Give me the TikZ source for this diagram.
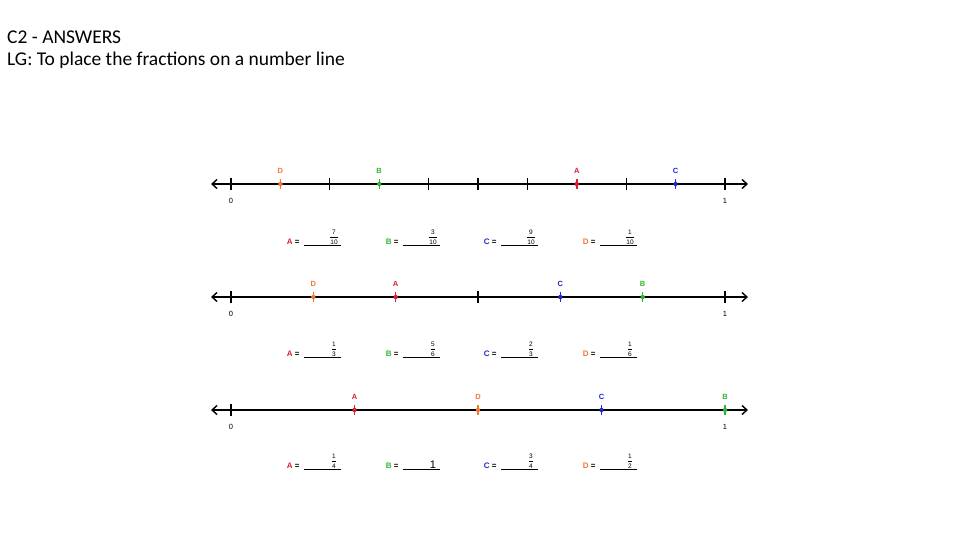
\documentclass[tikz,border=0pt]{standalone}
\usepackage{fontspec}
\setmainfont{Liberation Sans}
\newfontfamily\hdr{Carlito}
\usetikzlibrary{arrows.meta}
\definecolor{cA}{RGB}{220,30,50}
\definecolor{cB}{RGB}{50,180,50}
\definecolor{cC}{RGB}{30,40,200}
\definecolor{cD}{RGB}{240,120,50}
\newcommand{\fr}[2]{\ensuremath{\displaystyle\frac{\hbox{#1}}{\hbox{#2}}}}
\tikzset{
 axis/.style={line width=1.4pt,<->,>={Straight Barb[length=5pt,width=9pt]}},
 tk/.style={line width=1.2pt},
 ptk/.style={line width=1.4pt},
 plab/.style={font=\bfseries\fontsize{7.5}{8}\selectfont,anchor=south},
 endlab/.style={font=\fontsize{7.5}{8}\selectfont,anchor=north},
 alab/.style={font=\bfseries\fontsize{8}{9}\selectfont,anchor=east},
 blank/.style={line width=0.5pt},
 frac/.style={font=\fontsize{6.5}{7}\selectfont,anchor=south},
}
\begin{document}
\begin{tikzpicture}[x=1pt,y=-1pt]
\useasboundingbox (0,0) rectangle (960,540);
\node[anchor=north west,font=\hdr\fontsize{19.5}{22}\selectfont,align=left,inner sep=0] (title) at (7,31) {C2 - ANSWERS\\LG: To place the fractions on a number line};
% ---------- Line 1 ----------
\coordinate (l1a) at (211,184); \coordinate (l1b) at (748,184);
\draw[axis] (l1a) -- (l1b);
\foreach \f in {0,2,4,5,6,8,10} \draw[tk] (231+49.4*\f,178) -- (231+49.4*\f,190);
\foreach \f/\c/\l in {1/cD/D,3/cB/B,7/cA/A,9/cC/C}{
 \draw[ptk,\c] (231+49.4*\f,179) -- (231+49.4*\f,189);
 \fill[\c] (231+49.4*\f,184) circle (2.2);
 \node[plab,\c] at (231+49.4*\f,177) {\l};}
\node[endlab] (z1) at (231,195) {0};
\node[endlab] (o1) at (725,195) {1};
% ---------- Line 2 ----------
\coordinate (l2a) at (211,297); \coordinate (l2b) at (748,297);
\draw[axis] (l2a) -- (l2b);
\foreach \f in {0,3,6} \draw[tk] (231+82.33*\f,291) -- (231+82.33*\f,303);
\foreach \f/\c/\l in {1/cD/D,2/cA/A,4/cC/C,5/cB/B}{
 \draw[ptk,\c] (231+82.33*\f,292) -- (231+82.33*\f,302);
 \fill[\c] (231+82.33*\f,297) circle (2.2);
 \node[plab,\c] at (231+82.33*\f,290) {\l};}
\node[endlab] (z2) at (231,308) {0};
\node[endlab] (o2) at (725,308) {1};
% ---------- Line 3 ----------
\coordinate (l3a) at (211,410); \coordinate (l3b) at (748,410);
\draw[axis] (l3a) -- (l3b);
\draw[tk] (231,404) -- (231,416);
\foreach \f/\c/\l in {1/cA/A,2/cD/D,3/cC/C,4/cB/B}{
 \draw[ptk,\c] (231+123.5*\f,405) -- (231+123.5*\f,415);
 \fill[\c] (231+123.5*\f,410) circle (2.2);
 \node[plab,\c] at (231+123.5*\f,403) {\l};}
\node[endlab] (z3) at (231,421) {0};
\node[endlab] (o3) at (725,421) {1};
% ---------- answers ----------
\foreach \y/\fa/\fb/\fc/\fd in {245/{\fr{7}{10}}/{\fr{3}{10}}/{\fr{9}{10}}/{\fr{1}{10}},
 357/{\fr{1}{3}}/{\fr{5}{6}}/{\fr{2}{3}}/{\fr{1}{6}},
 469/{\fr{1}{4}}/{\fontsize{11}{11}\selectfont 1}/{\fr{3}{4}}/{\fr{1}{2}}}{
 \foreach \x/\c/\l/\v in {303/cA/A/\fa,402/cB/B/\fb,500/cC/C/\fc,599/cD/D/\fd}{
  \node[alab] at (\x,\y-3) {\textcolor{\c}{\l} =};
  \draw[blank] (\x+1,\y) -- (\x+38,\y);
  \node[frac,inner sep=0.5pt] at (\x+31,\y) {\v};}}
\end{tikzpicture}
\end{document}
